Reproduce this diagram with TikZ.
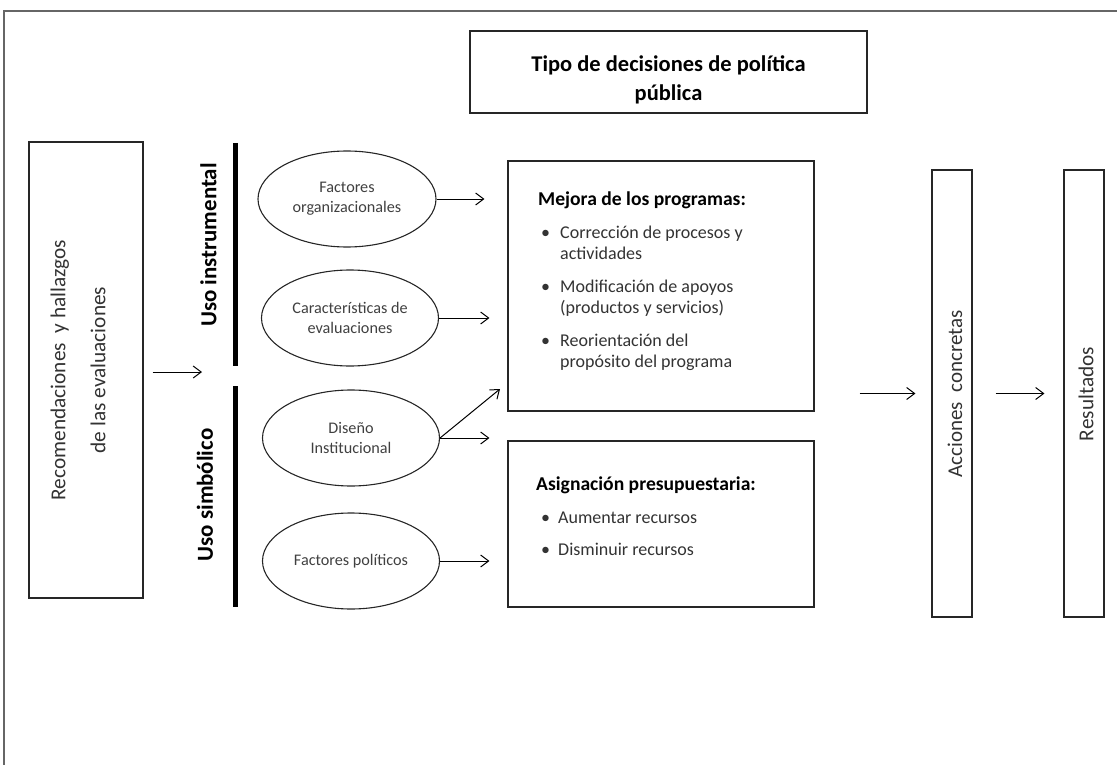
\documentclass[tikz,border=0pt]{standalone}
\usepackage{fontspec}
\setmainfont{Carlito}
\usetikzlibrary{shapes.geometric,arrows.meta}
\begin{document}
\begin{tikzpicture}[x=1pt,y=-1pt,
  box/.style={draw=black!85, line width=1.1pt, inner sep=0pt},
  ell/.style={ellipse, draw=black!85, line width=1.1pt, minimum width=177pt, minimum height=96pt, inner sep=0pt, align=center, font=\fontsize{16.2}{20}\selectfont, text=black!75},
  arr/.style={-{Straight Barb[length=8pt,width=12pt]}, line width=1pt},
  bar/.style={line width=5pt},
  rot/.style={rotate=90, align=center, inner sep=0pt},
  body/.style={inner sep=0pt, align=left, text=black!80, font=\fontsize{18}{21}\selectfont},
]
\useasboundingbox (0,0) rectangle (1117,765);
% frame
\draw[black!60, line width=1.5pt] (4,765) -- (4,11) -- (1117,11);

% title
\node[box, minimum width=397pt, minimum height=82pt] (title) at (668.5,72) {};
\node[align=center, inner sep=0pt, font=\fontsize{22.5}{29}\selectfont\bfseries] (titletext) at (668.5,80) {Tipo de decisiones de política\\pública};

% left box
\node[box, minimum width=114pt, minimum height=456pt] (rec) at (86,370) {};
\node[rot, text=black!80, font=\fontsize{21.3}{40}\selectfont] (rectext) at (78,370) {Recomendaciones \ y hallazgos\\de las evaluaciones};
\coordinate (recend) at (202,372);
\draw[arr, shorten <=9pt] (rec.east |- recend) -- (recend);

% bars
\coordinate (b1t) at (235,143); \coordinate (b1b) at (235,366);
\coordinate (b2t) at (235,386); \coordinate (b2b) at (235,607);
\draw[bar] (b1t) -- (b1b);
\draw[bar] (b2t) -- (b2b);
\node[rot, font=\fontsize{22.9}{26}\selectfont\bfseries] (uinst) at (208.5,245) {Uso instrumental};
\node[rot, font=\fontsize{22.9}{26}\selectfont\bfseries] (usimb) at (205,495) {Uso simbólico};

% ellipses
\node[ell, minimum width=178pt] (e1) at (347,199) {Factores\\organizacionales};
\node[ell] (e2) at (350,318) {Características de\\evaluaciones};
\node[ell] (e3) at (351,438) {Diseño\\Institucional};
\node[ell] (e4) at (351,561) {Factores políticos};

% decision boxes
\node[box, minimum width=306pt, minimum height=250pt] (mejora) at (661,286) {};
\node[box, minimum width=306pt, minimum height=166pt] (asig) at (661,524) {};

\node[body, anchor=north west] (mtext) at (538,192) {%
{\fontsize{19.6}{21}\selectfont\bfseries\color{black}Mejora de los programas:}\\[12pt]
\hspace*{3pt}\makebox[19pt][l]{\textbullet}Corrección de procesos y\\
\hspace*{22pt}actividades\\[12pt]
\hspace*{3pt}\makebox[19pt][l]{\textbullet}Modificación de apoyos\\
\hspace*{22pt}(productos y servicios)\\[12pt]
\hspace*{3pt}\makebox[19pt][l]{\textbullet}Reorientación del\\
\hspace*{22pt}propósito del programa};

\node[body, anchor=north west] (atext) at (536,477) {%
{\fontsize{19.6}{21}\selectfont\bfseries\color{black}Asignación presupuestaria:}\\[12pt]
\hspace*{5pt}\makebox[17pt][l]{\textbullet}Aumentar recursos\\[11pt]
\hspace*{5pt}\makebox[17pt][l]{\textbullet}Disminuir recursos};

% ellipse arrows
\draw[arr, shorten >=23pt] (e1.east) -- (e1.east -| mejora.west);
\draw[arr, shorten >=18pt] (e2.east) -- (e2.east -| mejora.west);
\draw[arr, shorten >=18pt] (e3.east) -- (e3.east -| asig.west);
\coordinate (diag) at (500,389);
\draw[arr] (e3.east) -- (diag);
\draw[arr, shorten >=18pt] (e4.east) -- (e4.east -| asig.west);

% right boxes
\node[box, minimum width=40pt, minimum height=447pt] (acc) at (952,393.5) {};
\node[rot, text=black!80, font=\fontsize{21}{24}\selectfont] (acctext) at (955,394) {Acciones \ concretas};
\node[box, minimum width=40pt, minimum height=447pt] (res) at (1084,393.5) {};
\node[rot, text=black!80, font=\fontsize{21.3}{24}\selectfont] (restext) at (1086,394) {Resultados};

\draw[arr, shorten <=45pt, shorten >=16pt] (mejora.east |- acc) -- (acc.west);
\draw[arr, shorten <=23pt, shorten >=19pt] (acc.east) -- (res.west);
\end{tikzpicture}
\end{document}
